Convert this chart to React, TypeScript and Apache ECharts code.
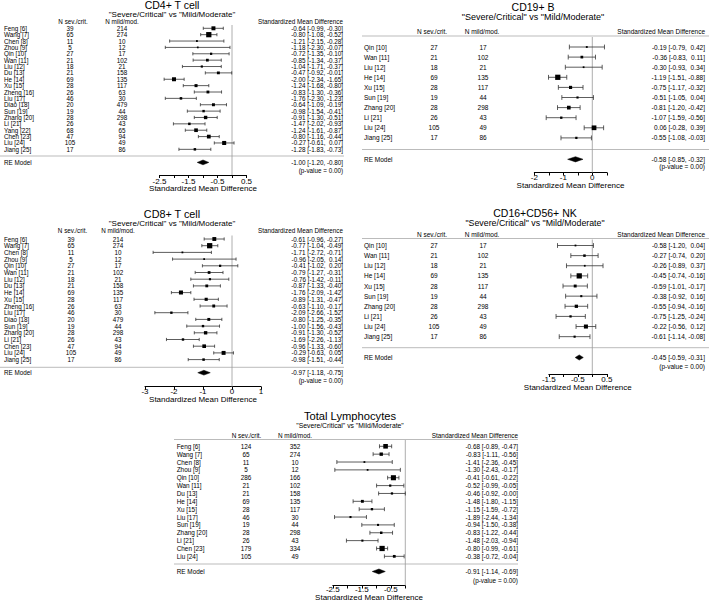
import React, { useEffect, useRef } from "react";
import * as echarts from "echarts";

const FONT = "'Liberation Sans', Arial, Helvetica, sans-serif";

const SUBTITLE = '"Severe/Critical" vs "Mild/Moderate"';
const AXIS_TITLE = "Standardized Mean Difference";
const HEAD_SEV = "N sev./crit.";
const HEAD_MILD = "N mild/mod.";
const RE_LABEL = "RE Model";
const P_LABEL = "(p-value = 0.00)";

// ---------- CD4+ T cell ----------
const cd4Names = ["Feng [6]", "Wang [7]", "Chen [8]", "Zhou [9]", "Qin [10]", "Wan [11]", "Liu [12]", "Du [13]", "He [14]", "Xu [15]", "Zheng [16]", "Liu [17]", "Diao [18]", "Sun [19]", "Zhang [20]", "Li [21]", "Yang [22]", "Chen [23]", "Liu [24]", "Jiang [25]"];
const cd4NSev = [39, 65, 11, 5, 27, 21, 18, 21, 69, 28, 26, 46, 20, 19, 28, 26, 68, 47, 105, 17];
const cd4NMild = [214, 274, 10, 12, 17, 102, 21, 158, 135, 117, 63, 30, 479, 44, 298, 43, 65, 94, 49, 86];
const cd4Est = [-0.64, -0.80, -1.21, -1.18, -0.72, -0.85, -1.04, -0.47, -2.00, -1.24, -0.83, -1.76, -0.64, -0.98, -0.91, -1.47, -1.24, -0.80, -0.27, -1.28];
const cd4Lo = [-0.99, -1.08, -2.15, -2.30, -1.35, -1.34, -1.71, -0.92, -2.34, -1.68, -1.30, -2.30, -1.09, -1.54, -1.30, -2.02, -1.61, -1.16, -0.61, -1.83];
const cd4Hi = [-0.30, -0.52, -0.28, -0.07, -0.10, -0.37, -0.37, -0.01, -1.65, -0.80, -0.36, -1.23, -0.19, -0.41, -0.51, -0.93, -0.87, -0.44, 0.07, -0.73];
const cd4Re = [-1.00, -1.20, -0.80];
const cd4Ticks = [-2.5, -1.5, -0.5, 0.5];

// ---------- CD8+ T cell ----------
const cd8Names = ["Feng [6]", "Wang [7]", "Chen [8]", "Zhou [9]", "Qin [10]", "Wan [11]", "Liu [12]", "Du [13]", "He [14]", "Xu [15]", "Zheng [16]", "Liu [17]", "Diao [18]", "Sun [19]", "Zhang [20]", "Li [21]", "Chen [23]", "Liu [24]", "Jiang [25]"];
const cd8NSev = [39, 65, 11, 5, 27, 21, 18, 21, 69, 28, 26, 46, 20, 19, 28, 26, 47, 105, 17];
const cd8NMild = [214, 274, 10, 12, 17, 102, 21, 158, 135, 117, 63, 30, 479, 44, 298, 43, 94, 49, 86];
const cd8Est = [-0.61, -0.77, -1.71, -0.96, -0.41, -0.79, -0.76, -0.87, -1.76, -0.89, -0.63, -2.09, -0.80, -1.00, -0.91, -1.69, -0.96, -0.29, -0.98];
const cd8Lo = [-0.96, -1.04, -2.72, -2.05, -1.02, -1.27, -1.42, -1.33, -2.09, -1.31, -1.10, -2.66, -1.25, -1.56, -1.30, -2.26, -1.33, -0.63, -1.51];
const cd8Hi = [-0.27, -0.49, -0.71, 0.14, 0.20, -0.31, -0.11, -0.40, -1.42, -0.47, -0.17, -1.52, -0.35, -0.43, -0.52, -1.13, -0.60, 0.05, -0.44];
const cd8Re = [-0.97, -1.18, -0.75];
const cd8Ticks = [-3, -2, -1, 0, 1];

// ---------- CD19+ B ----------
const cd19Names = ["Qin [10]", "Wan [11]", "Liu [12]", "He [14]", "Xu [15]", "Sun [19]", "Zhang [20]", "Li [21]", "Liu [24]", "Jiang [25]"];
const cd19NSev = [27, 21, 18, 69, 28, 19, 28, 26, 105, 17];
const cd19NMild = [17, 102, 21, 135, 117, 44, 298, 43, 49, 86];
const cd19Est = [-0.19, -0.36, -0.30, -1.19, -0.75, -0.51, -0.81, -1.07, 0.06, -0.55];
const cd19Lo = [-0.79, -0.83, -0.93, -1.51, -1.17, -1.05, -1.20, -1.59, -0.28, -1.08];
const cd19Hi = [0.42, 0.11, 0.34, -0.88, -0.32, 0.04, -0.42, -0.56, 0.39, -0.03];
const cd19Re = [-0.58, -0.85, -0.32];
const cd19Ticks = [-2, -1, 0];

// ---------- CD16+CD56+ NK ----------
const nkNames = ["Qin [10]", "Wan [11]", "Liu [12]", "He [14]", "Xu [15]", "Sun [19]", "Zhang [20]", "Li [21]", "Liu [24]", "Jiang [25]"];
const nkNSev = [27, 21, 18, 69, 28, 19, 28, 26, 105, 17];
const nkNMild = [17, 102, 21, 135, 117, 44, 298, 43, 49, 86];
const nkEst = [-0.58, -0.27, -0.26, -0.45, -0.59, -0.38, -0.55, -0.75, -0.22, -0.61];
const nkLo = [-1.20, -0.74, -0.89, -0.74, -1.01, -0.92, -0.94, -1.25, -0.56, -1.14];
const nkHi = [0.04, 0.20, 0.37, -0.16, -0.17, 0.16, -0.16, -0.24, 0.12, -0.08];
const nkRe = [-0.45, -0.59, -0.31];
const nkTicks = [-1.5, -0.5, 0.5];

// ---------- Total Lymphocytes ----------
const totNames = ["Feng [6]", "Wang [7]", "Chen [8]", "Zhou [9]", "Qin [10]", "Wan [11]", "Du [13]", "He [14]", "Xu [15]", "Liu [17]", "Sun [19]", "Zhang [20]", "Li [21]", "Chen [23]", "Liu [24]"];
const totNSev = [124, 65, 11, 5, 286, 21, 21, 69, 28, 46, 19, 28, 26, 179, 105];
const totNMild = [352, 274, 10, 12, 166, 102, 158, 135, 117, 30, 44, 298, 43, 334, 49];
const totEst = [-0.68, -0.83, -1.41, -1.30, -0.41, -0.52, -0.46, -1.48, -1.15, -1.89, -0.94, -0.83, -1.48, -0.80, -0.38];
const totLo = [-0.89, -1.11, -2.36, -2.43, -0.61, -0.99, -0.92, -1.80, -1.59, -2.44, -1.50, -1.22, -2.03, -0.99, -0.72];
const totHi = [-0.47, -0.56, -0.45, -0.17, -0.22, -0.05, -0.00, -1.15, -0.72, -1.34, -0.38, -0.44, -0.94, -0.61, -0.04];
const totRe = [-0.91, -1.14, -0.69];
const totTicks = [-2.5, -1.5, -0.5];

function fmtNum(v: number) {
  const neg = v < 0 || Object.is(v, -0);
  const s = Math.abs(v).toFixed(2);
  return neg ? "-" + s : "\u00a0" + s;
}
function fmtCI(e: number, l: number, h: number) {
  return fmtNum(e).trim() + " [" + fmtNum(l) + ", " + fmtNum(h) + "]";
}

type Layout = {
  zeroX: number; ppu: number; y0: number; sp: number; top: number; axisY: number;
  reY: number; pY: number; sepY: number; sepX0: number; sepX1: number; headLine: number | null;
  headY: number; titleX: number; titleY: number; subY: number;
  nameX: number; nSevX: number; nMildX: number; smdX: number; hSevX: number; hMildX: number;
  fs: number; titleFs: number; subFs: number; axisFs: number; labelMargin: number; nameGap: number;
  box: number; whisker: number; diamondH: number;
};

type Panel = {
  title: string; names: string[]; nSev: number[]; nMild: number[]; est: number[]; lo: number[]; hi: number[];
  re: number[]; ticks: number[]; axis: { min: number; max: number; interval: number }; L: Layout;
};

const panels: Panel[] = [
  {
    title: "CD4+ T cell", names: cd4Names, nSev: cd4NSev, nMild: cd4NMild, est: cd4Est, lo: cd4Lo, hi: cd4Hi, re: cd4Re, ticks: cd4Ticks,
    axis: { min: -2.5, max: 0.5, interval: 0.5 },
    L: { zeroX: 232, ppu: 29, y0: 28.3, sp: 6.37, top: 25, axisY: 175, reY: 162.4, pY: 170.5, sepY: 156, sepX0: 0, sepX1: 344, headLine: null,
      headY: 21.8, titleX: 172, titleY: 5, subY: 14.5, nameX: 4, nSevX: 70, nMildX: 122, smdX: 343, hSevX: 73, hMildX: 122,
      fs: 6.3, titleFs: 10.5, subFs: 8, axisFs: 8, labelMargin: 2, nameGap: 9.5, box: 3.5, whisker: 1.6, diamondH: 2.4 },
  },
  {
    title: "CD8+ T cell", names: cd8Names, nSev: cd8NSev, nMild: cd8NMild, est: cd8Est, lo: cd8Lo, hi: cd8Hi, re: cd8Re, ticks: cd8Ticks,
    axis: { min: -3, max: 1, interval: 1 },
    L: { zeroX: 232, ppu: 29, y0: 239, sp: 6.7, top: 235.5, axisY: 386.7, reY: 372.7, pY: 380, sepY: 367.3, sepX0: 0, sepX1: 344, headLine: null,
      headY: 230.4, titleX: 172, titleY: 213.5, subY: 223, nameX: 4, nSevX: 71, nMildX: 118, smdX: 343, hSevX: 72.5, hMildX: 118,
      fs: 6.3, titleFs: 10.8, subFs: 8, axisFs: 8, labelMargin: 1, nameGap: 8.5, box: 3.5, whisker: 1.6, diamondH: 2.4 },
  },
  {
    title: "CD19+ B", names: cd19Names, nSev: cd19NSev, nMild: cd19NMild, est: cd19Est, lo: cd19Lo, hi: cd19Hi, re: cd19Re, ticks: cd19Ticks,
    axis: { min: -2, max: 0.5, interval: 0.5 },
    L: { zeroX: 592.3, ppu: 29, y0: 47, sp: 10.1, top: 37, axisY: 172.5, reY: 159.3, pY: 166.5, sepY: 149.5, sepX0: 362, sepX1: 709, headLine: 36,
      headY: 31.5, titleX: 533, titleY: 6.5, subY: 16.5, nameX: 364, nSevX: 434, nMildX: 483, smdX: 705, hSevX: 432, hMildX: 482,
      fs: 6.5, titleFs: 10.5, subFs: 9, axisFs: 8, labelMargin: 1, nameGap: 9, box: 3.5, whisker: 2.4, diamondH: 2.6 },
  },
  {
    title: "CD16+CD56+ NK", names: nkNames, nSev: nkNSev, nMild: nkNMild, est: nkEst, lo: nkLo, hi: nkHi, re: nkRe, ticks: nkTicks,
    axis: { min: -1.5, max: 0.5, interval: 0.5 },
    L: { zeroX: 592.3, ppu: 29, y0: 245.5, sp: 10.13, top: 239.5, axisY: 374, reY: 357.5, pY: 366.5, sepY: 347.7, sepX0: 362, sepX1: 709, headLine: 238.5,
      headY: 234.5, titleX: 535, titleY: 212.6, subY: 223.2, nameX: 364, nSevX: 434, nMildX: 483, smdX: 705, hSevX: 432, hMildX: 482,
      fs: 6.5, titleFs: 10.5, subFs: 8.8, axisFs: 8, labelMargin: 1, nameGap: 9, box: 3.5, whisker: 2.4, diamondH: 2.6 },
  },
  {
    title: "Total Lymphocytes", names: totNames, nSev: totNSev, nMild: totNMild, est: totEst, lo: totLo, hi: totHi, re: totRe, ticks: totTicks,
    axis: { min: -2.5, max: 0, interval: 0.5 },
    L: { zeroX: 405.3, ppu: 29, y0: 446.3, sp: 7.86, top: 440, axisY: 585.5, reY: 571.5, pY: 580, sepY: 564, sepX0: 174, sepX1: 518, headLine: 439.5,
      headY: 435.5, titleX: 350, titleY: 415.5, subY: 425, nameX: 176.7, nSevX: 246, nMildX: 295, smdX: 518, hSevX: 246.5, hMildX: 295,
      fs: 6.4, titleFs: 11.2, subFs: 6.8, axisFs: 8, labelMargin: 0, nameGap: 7.5, box: 3.5, whisker: 2, diamondH: 2.5 },
  },
];

function textEl(text: string, x: number, y: number, fs: number, align: string) {
  return {
    type: "text",
    silent: true,
    x,
    y,
    style: {
      text,
      fill: "#000",
      fontSize: fs,
      fontFamily: FONT,
      align,
      verticalAlign: "middle",
      textAlign: align,
      textVerticalAlign: "middle",
    },
  };
}

function lineEl(x1: number, y1: number, x2: number, y2: number, stroke: string, lw: number) {
  return { type: "line", silent: true, shape: { x1, y1, x2, y2 }, style: { stroke, lineWidth: lw } };
}

function buildOption() {
  const grid: any[] = [];
  const xAxis: any[] = [];
  const yAxis: any[] = [];
  const series: any[] = [];
  const graphic: any[] = [];

  panels.forEach((p, k) => {
    const L = p.L;
    const yMin = (L.top - L.y0) / L.sp;
    const yMax = (L.axisY - L.y0) / L.sp;
    grid.push({
      left: L.zeroX + p.axis.min * L.ppu,
      width: (p.axis.max - p.axis.min) * L.ppu,
      top: L.top,
      height: L.axisY - L.top,
      containLabel: false,
      outerBoundsMode: "none",
    });
    xAxis.push({
      gridIndex: k,
      type: "value",
      min: p.axis.min,
      max: p.axis.max,
      interval: p.axis.interval,
      position: "bottom",
      axisLine: { show: true, onZero: false, lineStyle: { color: "#000", width: 1 } },
      axisTick: { show: true, length: 3, lineStyle: { color: "#000", width: 1 } },
      splitLine: { show: false },
      axisLabel: {
        show: true,
        color: "#000",
        fontSize: L.axisFs,
        fontFamily: FONT,
        margin: L.labelMargin,
        showMinLabel: true,
        showMaxLabel: true,
        hideOverlap: false,
        formatter: (v: number) =>
          p.ticks.some((t) => Math.abs(t - v) < 1e-6) ? String(Math.round(v * 10) / 10) : "",
      },
      name: AXIS_TITLE,
      nameLocation: "middle",
      nameGap: L.nameGap,
      nameMoveOverlap: false,
      nameTextStyle: { color: "#000", fontSize: L.axisFs, fontFamily: FONT },
    });
    yAxis.push({ gridIndex: k, type: "value", min: yMin, max: yMax, inverse: true, show: false });

    const w = p.hi.map((h, i) => 1 / Math.pow((h - p.lo[i]) / 3.92, 2));
    const wmin = Math.min(...w);
    const wmax = Math.max(...w);
    const sizes = w.map((v) => (0.5 + (v - wmin) / (wmax - wmin)) * L.box);
    const reRow = (L.reY - L.y0) / L.sp;
    const pOff = L.pY - L.reY;

    // RE model + zero reference line
    series.push({
      type: "custom",
      xAxisIndex: k,
      yAxisIndex: k,
      clip: false,
      silent: true,
      data: [[reRow, p.re[0], p.re[1], p.re[2]]],
      renderItem: (params: any, api: any) => {
        const row = api.value(0);
        const [xe, y] = api.coord([api.value(1), row]);
        const xl = api.coord([api.value(2), row])[0];
        const xh = api.coord([api.value(3), row])[0];
        const [zx, zTop] = api.coord([0, yMin]);
        const zBot = api.coord([0, yMax])[1];
        const h = L.diamondH;
        return {
          type: "group",
          children: [
            lineEl(zx, zTop, zx, zBot, "#999", 0.8),
            {
              type: "polygon",
              silent: true,
              shape: { points: [[xl, y], [xe, y - h], [xh, y], [xe, y + h]] },
              style: { fill: "#000", stroke: "#000", lineWidth: 0.5 },
            },
            textEl(RE_LABEL, L.nameX, y, L.fs, "left"),
            textEl(fmtCI(p.re[0], p.re[1], p.re[2]), L.smdX, y, L.fs, "right"),
            textEl(P_LABEL, L.smdX, y + pOff, L.fs, "right"),
          ],
        };
      },
    });

    // individual studies
    series.push({
      type: "custom",
      xAxisIndex: k,
      yAxisIndex: k,
      clip: false,
      silent: true,
      data: p.est.map((e, i) => [i, e, p.lo[i], p.hi[i]]),
      renderItem: (params: any, api: any) => {
        const i = params.dataIndex;
        const row = api.value(0);
        const [xe, y] = api.coord([api.value(1), row]);
        const xl = api.coord([api.value(2), row])[0];
        const xh = api.coord([api.value(3), row])[0];
        const s = sizes[i];
        const wh = L.whisker;
        return {
          type: "group",
          children: [
            lineEl(xl, y, xh, y, "#333", 0.8),
            lineEl(xl, y - wh, xl, y + wh, "#333", 0.8),
            lineEl(xh, y - wh, xh, y + wh, "#333", 0.8),
            {
              type: "rect",
              silent: true,
              shape: { x: xe - s / 2, y: y - s / 2, width: s, height: s },
              style: { fill: "#000" },
            },
            textEl(p.names[i], L.nameX, y, L.fs, "left"),
            textEl(String(p.nSev[i]), L.nSevX, y, L.fs, "center"),
            textEl(String(p.nMild[i]), L.nMildX, y, L.fs, "center"),
            textEl(fmtCI(p.est[i], p.lo[i], p.hi[i]), L.smdX, y, L.fs, "right"),
          ],
        };
      },
    });

    // titles, headers and rules
    graphic.push(textEl(p.title, L.titleX, L.titleY, L.titleFs, "center"));
    graphic.push(textEl(SUBTITLE, L.titleX, L.subY, L.subFs, "center"));
    graphic.push(textEl(HEAD_SEV, L.hSevX, L.headY, L.fs, "center"));
    graphic.push(textEl(HEAD_MILD, L.hMildX, L.headY, L.fs, "center"));
    graphic.push(textEl(AXIS_TITLE, L.smdX, L.headY, L.fs, "right"));
    if (L.headLine !== null) graphic.push(lineEl(L.sepX0, L.headLine, L.sepX1, L.headLine, "#aaa", 0.8));
    graphic.push(lineEl(L.sepX0, L.sepY, L.sepX1, L.sepY, "#aaa", 0.8));
  });

  return {
    animation: false,
    backgroundColor: "#fff",
    textStyle: { fontFamily: FONT },
    grid,
    xAxis,
    yAxis,
    series,
    graphic: { elements: graphic },
  };
}

export default function App() {
  const ref = useRef<HTMLDivElement>(null);
  useEffect(() => {
    const chart = echarts.init(ref.current!, undefined, { renderer: "svg", width: 709, height: 602 });
    chart.setOption(buildOption() as any);
    return () => chart.dispose();
  }, []);
  return (
    <div
      ref={ref}
      style={{ position: "fixed", left: 0, top: 0, width: 709, height: 602, background: "#fff" }}
    />
  );
}
